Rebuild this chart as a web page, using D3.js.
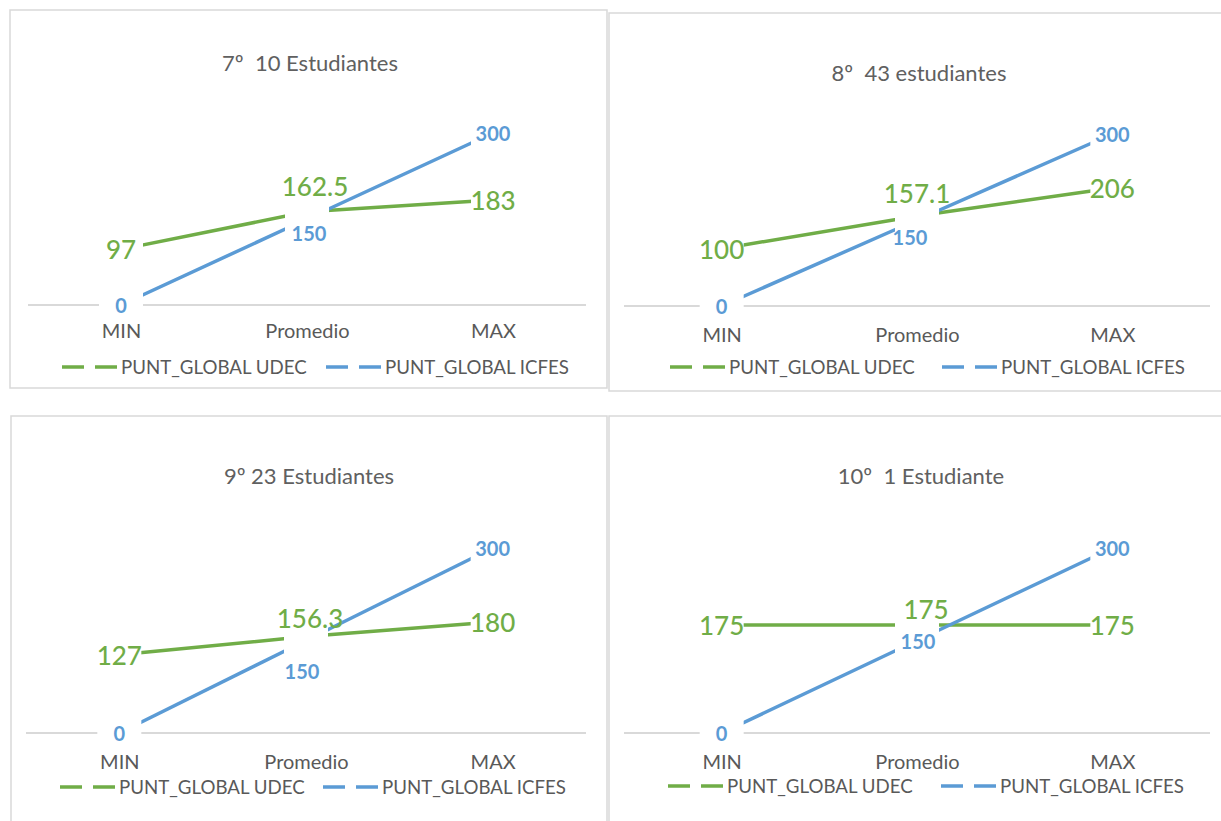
<!DOCTYPE html>
<html lang="es">
<head>
<meta charset="UTF-8">
<script src="https://d3js.org/d3.v7.min.js"></script>
<style>
  body { margin: 0; background: #fff; }
  svg text { font-family: Lato, "Open Sans", sans-serif; }
</style>
</head>
<body>
<svg id="chart" width="1221" height="821"></svg>
<script>
// data
var categories = ["MIN", "Promedio", "MAX"];
var titles = ["7º  10 Estudiantes", "8º  43 estudiantes", "9º 23 Estudiantes", "10º  1 Estudiante"];
var seriesNames = ["PUNT_GLOBAL UDEC", "PUNT_GLOBAL ICFES"];
var udec = [
  [97, 162.5, 183],
  [100, 157.1, 206],
  [127, 156.3, 180],
  [175, 175, 175]
];
var icfes = [
  [0, 150, 300],
  [0, 150, 300],
  [0, 150, 300],
  [0, 150, 300]
];

var colors = ["#70AD47", "#5B9BD5"];
var textGrey = "#595959";

// layout of each panel (picture coordinates)
var panels = [
  { box: [10, 10, 597, 378], titleX: 310, titleY: 62, axis: [28, 586], base: 305, top300: 133, catY: 331, legY: 367, legX: [62, 326],
    promOff: [[8, -26], [2, 14]] },
  { box: [609, 13, 620, 378], titleX: 919, titleY: 72, axis: [624, 1210], base: 306, top300: 134, catY: 335, legY: 367, legX: [670, 942],
    promOff: [[0, -23], [-7, 17]] },
  { box: [11, 416, 596, 420], titleX: 309, titleY: 475, axis: [26, 586], base: 733, top300: 548, catY: 762, legY: 787, legX: [60, 323],
    promOff: [[4, -19], [-4, 30]] },
  { box: [609, 416, 620, 420], titleX: 921, titleY: 475, axis: [624, 1210], base: 733, top300: 548, catY: 762, legY: 786, legX: [668, 941],
    promOff: [[9, -16], [1, 0]] }
];

var svg = d3.select("#chart");

panels.forEach(function(p, i) {
  var g = svg.append("g");

  g.append("rect")
    .attr("x", p.box[0]).attr("y", p.box[1])
    .attr("width", p.box[2]).attr("height", p.box[3])
    .attr("fill", "#fff")
    .attr("stroke", "#D9D9D9")
    .attr("stroke-width", 1.5);

  g.append("text")
    .attr("x", p.titleX).attr("y", p.titleY)
    .attr("text-anchor", "middle")
    .attr("dominant-baseline", "central")
    .style("font-size", "22px")
    .style("white-space", "pre")
    .attr("fill", "#606060")
    .text(titles[i]);

  var x = d3.scalePoint().domain(categories).range(p.axis).padding(0.5);
  var y = d3.scaleLinear().domain([0, 300]).range([p.base, p.top300]);

  // category axis
  var ax = g.append("g")
    .attr("transform", "translate(0," + p.base + ")")
    .call(d3.axisBottom(x).tickSize(0).tickPadding(0));
  ax.select(".domain")
    .attr("d", "M" + p.axis[0] + ",0H" + p.axis[1])
    .attr("stroke", "#D9D9D9").attr("stroke-width", 2);
  ax.selectAll(".tick text")
    .attr("y", p.catY - p.base)
    .attr("dy", "0.35em")
    .attr("fill", textGrey)
    .style("font-size", "20px")
    .style("font-family", "Lato, sans-serif");

  var line = d3.line()
    .x(function(d, j) { return x(categories[j]); })
    .y(function(d) { return y(d); });

  var series = [udec[i], icfes[i]];

  series.forEach(function(vals, s) {
    g.append("path")
      .datum(vals)
      .attr("d", line)
      .attr("fill", "none")
      .attr("stroke", colors[s])
      .attr("stroke-width", 3.5);
  });

  // white label boxes break the lines around each point
  series.forEach(function(vals) {
    g.selectAll(null)
      .data(vals)
      .enter()
      .append("rect")
      .attr("x", function(d, j) { return x(categories[j]) - 22; })
      .attr("y", function(d) { return y(d) - 13; })
      .attr("width", 44).attr("height", 26)
      .attr("fill", "#fff");
  });

  series.forEach(function(vals, s) {
    g.selectAll(null)
      .data(vals)
      .enter()
      .append("text")
      .attr("x", function(d, j) { return x(categories[j]) + (j === 1 ? p.promOff[s][0] : 0); })
      .attr("y", function(d, j) { return y(d) + (j === 1 ? p.promOff[s][1] : 0); })
      .attr("text-anchor", "middle")
      .attr("dominant-baseline", "central")
      .attr("fill", colors[s])
      .style("font-size", s === 0 ? "26px" : "20px")
      .style("font-weight", s === 0 ? "500" : "700")
      .text(function(d) { return d; });
  });

  // legend
  seriesNames.forEach(function(name, s) {
    var lx = p.legX[s];
    g.append("line")
      .attr("x1", lx).attr("x2", lx + 55)
      .attr("y1", p.legY).attr("y2", p.legY)
      .attr("stroke", colors[s])
      .attr("stroke-width", 3.5)
      .attr("stroke-dasharray", "22,11");
    g.append("text")
      .attr("x", lx + 59).attr("y", p.legY)
      .attr("dominant-baseline", "central")
      .attr("fill", textGrey)
      .style("font-size", "18.7px")
      .text(name);
  });
});
</script>
</body>
</html>
